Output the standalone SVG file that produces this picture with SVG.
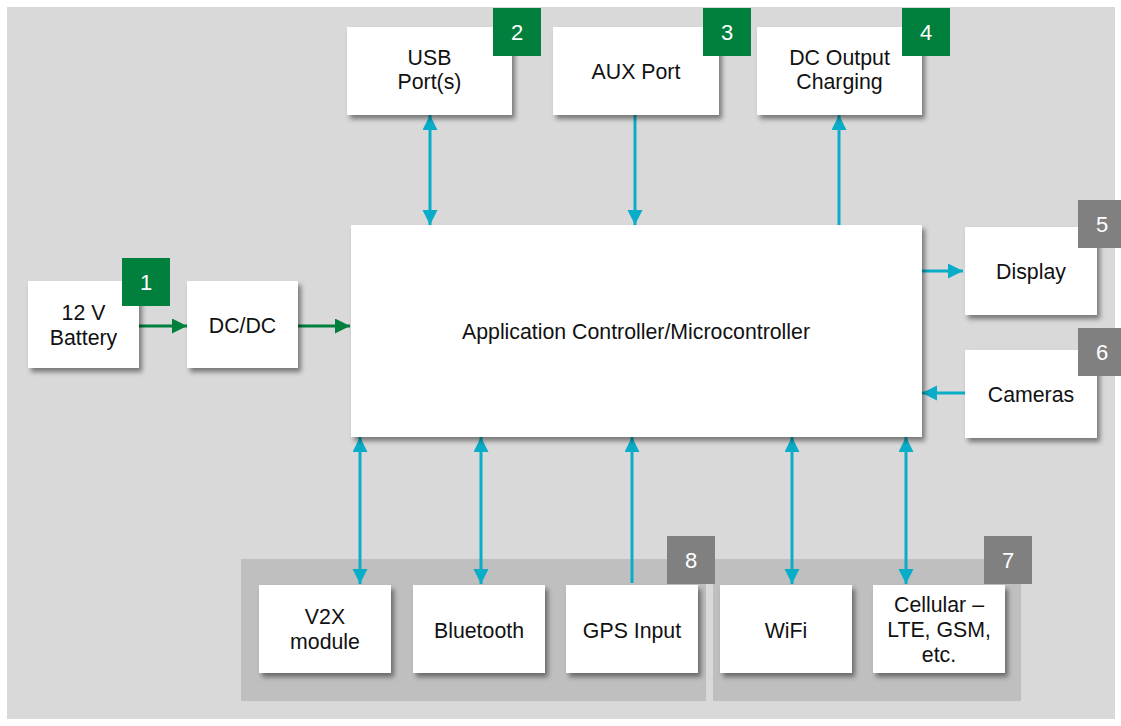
<svg xmlns="http://www.w3.org/2000/svg" width="1121" height="726" viewBox="0 0 1121 726">
<style>
.box{fill:#ffffff;filter:url(#sh)}
.t{font-family:"Liberation Sans",Arial,sans-serif;font-size:21.3px;fill:#111111;text-anchor:middle}
.bt{font-family:"Liberation Sans",Arial,sans-serif;font-size:22px;fill:#ffffff;text-anchor:middle}
.bg{fill:#00803c}
.bgr{fill:#808080}
.cb{stroke:#0aadc7;stroke-width:3;fill:none}
.cg{stroke:#00803c;stroke-width:3;fill:none}
.panel{fill:#bfbfbf}
</style>
<defs>
<filter id="sh" x="-20%" y="-20%" width="150%" height="150%">
<feDropShadow dx="3" dy="4" stdDeviation="2.5" flood-color="#000" flood-opacity="0.45"/>
</filter>
<marker id="ab" markerUnits="userSpaceOnUse" markerWidth="16" markerHeight="16" refX="15" refY="7.5" orient="auto-start-reverse">
<path d="M0,0 L15,7.5 L0,15 z" fill="#0aadc7"/>
</marker>
<marker id="ag" markerUnits="userSpaceOnUse" markerWidth="16" markerHeight="16" refX="15" refY="7.5" orient="auto-start-reverse">
<path d="M0,0 L15,7.5 L0,15 z" fill="#00803c"/>
</marker>
</defs>
<rect x="7" y="7" width="1108" height="712" fill="#d9d9d9"/>
<rect class="panel" x="241" y="559" width="465" height="142"/>
<rect class="panel" x="713" y="559" width="308" height="142"/>

<g id="connectors">
<line class="cg" x1="139" y1="326" x2="187" y2="326" marker-end="url(#ag)"/>
<line class="cg" x1="298" y1="326" x2="350" y2="326" marker-end="url(#ag)"/>
<line class="cb" x1="430" y1="115" x2="430" y2="225" marker-start="url(#ab)" marker-end="url(#ab)"/>
<line class="cb" x1="635" y1="115" x2="635" y2="225" marker-end="url(#ab)"/>
<line class="cb" x1="839" y1="225" x2="839" y2="115" marker-end="url(#ab)"/>
<line class="cb" x1="922" y1="271" x2="963" y2="271" marker-end="url(#ab)"/>
<line class="cb" x1="965" y1="393" x2="922" y2="393" marker-end="url(#ab)"/>
<line class="cb" x1="360" y1="437" x2="360" y2="584" marker-start="url(#ab)" marker-end="url(#ab)"/>
<line class="cb" x1="481" y1="437" x2="481" y2="584" marker-start="url(#ab)" marker-end="url(#ab)"/>
<line class="cb" x1="632" y1="583" x2="632" y2="437" marker-end="url(#ab)"/>
<line class="cb" x1="792" y1="437" x2="792" y2="584" marker-start="url(#ab)" marker-end="url(#ab)"/>
<line class="cb" x1="906" y1="437" x2="906" y2="584" marker-start="url(#ab)" marker-end="url(#ab)"/>
</g>

<g id="controller">
<rect class="box" x="351" y="225" width="571" height="212"/>
<text class="t" x="636" y="339">Application Controller/Microcontroller</text>
</g>

<g id="battery">
<rect class="box" x="28" y="281" width="111" height="87"/>
<text class="t" x="83.5" y="320">12 V</text>
<text class="t" x="83.5" y="345">Battery</text>
<rect class="bg" x="122" y="258" width="48" height="48"/>
<text class="bt" x="146" y="290">1</text>
</g>

<g id="dcdc">
<rect class="box" x="187" y="281" width="111" height="87"/>
<text class="t" x="242.5" y="333">DC/DC</text>
</g>

<g id="usb">
<rect class="box" x="347" y="27" width="165" height="88"/>
<text class="t" x="429.5" y="65">USB</text>
<text class="t" x="429.5" y="89">Port(s)</text>
<rect class="bg" x="493" y="8" width="48" height="48"/>
<text class="bt" x="517" y="40">2</text>
</g>

<g id="aux">
<rect class="box" x="553" y="27" width="166" height="88"/>
<text class="t" x="636" y="79">AUX Port</text>
<rect class="bg" x="703" y="8" width="48" height="48"/>
<text class="bt" x="727" y="40">3</text>
</g>

<g id="dcout">
<rect class="box" x="757" y="27" width="165" height="88"/>
<text class="t" x="839.5" y="65">DC Output</text>
<text class="t" x="839.5" y="89">Charging</text>
<rect class="bg" x="902" y="8" width="48" height="48"/>
<text class="bt" x="926" y="40">4</text>
</g>

<g id="display">
<rect class="box" x="965" y="227" width="132" height="88"/>
<text class="t" x="1031" y="279">Display</text>
<rect class="bgr" x="1078" y="200" width="48" height="48"/>
<text class="bt" x="1102" y="232">5</text>
</g>

<g id="cameras">
<rect class="box" x="965" y="350" width="132" height="88"/>
<text class="t" x="1031" y="402">Cameras</text>
<rect class="bgr" x="1078" y="328" width="48" height="48"/>
<text class="bt" x="1102" y="360">6</text>
</g>

<g id="v2x">
<rect class="box" x="259" y="585" width="132" height="88"/>
<text class="t" x="325" y="624">V2X</text>
<text class="t" x="325" y="649">module</text>
</g>

<g id="bluetooth">
<rect class="box" x="413" y="585" width="132" height="88"/>
<text class="t" x="479" y="638">Bluetooth</text>
</g>

<g id="gps">
<rect class="box" x="566" y="585" width="132" height="88"/>
<text class="t" x="632" y="638">GPS Input</text>
<rect class="bgr" x="667" y="536" width="48" height="48"/>
<text class="bt" x="691" y="568">8</text>
</g>

<g id="wifi">
<rect class="box" x="720" y="585" width="132" height="88"/>
<text class="t" x="786" y="638">WiFi</text>
</g>

<g id="cellular">
<rect class="box" x="873" y="585" width="132" height="88"/>
<text class="t" x="939" y="612">Cellular –</text>
<text class="t" x="939" y="637">LTE, GSM,</text>
<text class="t" x="939" y="662">etc.</text>
<rect class="bgr" x="984" y="536" width="48" height="48"/>
<text class="bt" x="1008" y="568">7</text>
</g>
</svg>
